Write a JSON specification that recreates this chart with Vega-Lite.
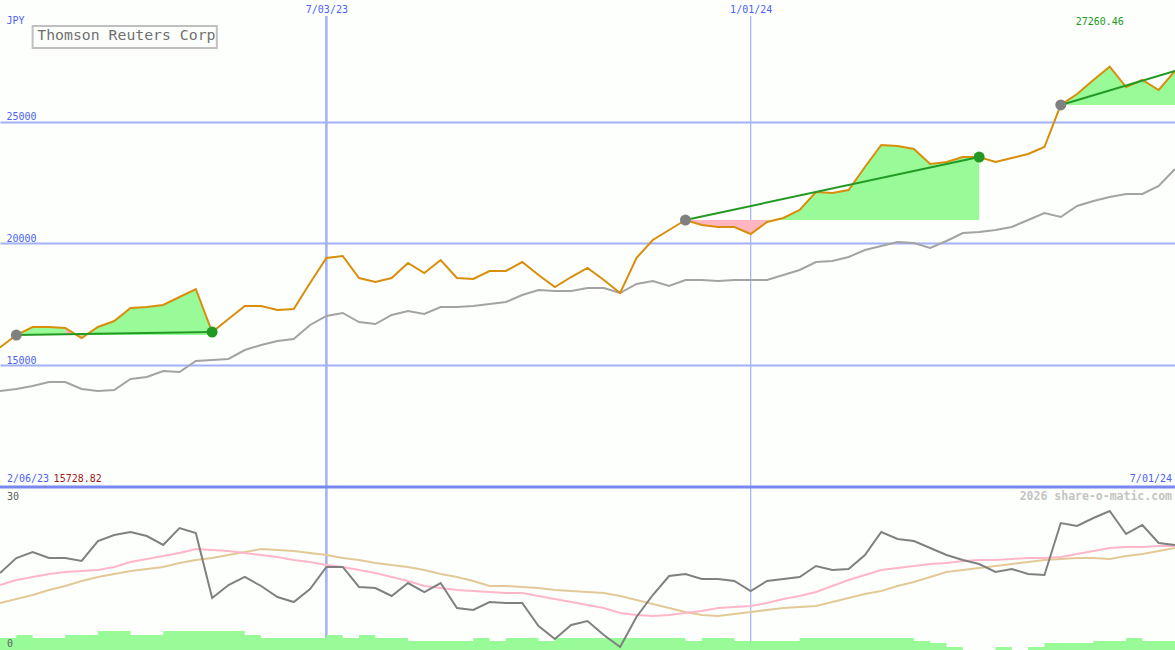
{
  "$schema": "https://vega.github.io/schema/vega-lite/v6.json",
  "width": 1175,
  "height": 650,
  "autosize": {"type": "none"},
  "padding": 0,
  "background": "#fcfffc",
  "config": {"view": {"stroke": null}},
  "datasets": {
    "main": [
      {"d":"2023-02-13","p":15728.82,"ma":13942,"ind":14.17,"s1":11.96,"s2":8.65,"vol":74},
      {"d":"2023-02-20","p":16242,"ma":14025,"ind":16.93,"s1":12.88,"s2":9.39,"vol":92,"trend":"T1","base":16242},
      {"d":"2023-02-27","p":16571,"ma":14148,"ind":18.04,"s1":13.44,"s2":10.12,"vol":74,"trend":"T1","base":16242},
      {"d":"2023-03-06","p":16571,"ma":14312,"ind":16.93,"s1":13.99,"s2":11.04,"vol":74,"trend":"T1","base":16242},
      {"d":"2023-03-13","p":16530,"ma":14312,"ind":16.93,"s1":14.36,"s2":11.78,"vol":92,"trend":"T1","base":16242,"below":true},
      {"d":"2023-03-20","p":16119,"ma":14025,"ind":16.38,"s1":14.54,"s2":12.70,"vol":92,"trend":"T1","base":16242,"below":true},
      {"d":"2023-03-27","p":16571,"ma":13942,"ind":20.06,"s1":14.72,"s2":13.44,"vol":117,"trend":"T1","base":16242},
      {"d":"2023-04-03","p":16817,"ma":13983,"ind":21.17,"s1":15.28,"s2":13.99,"vol":117,"trend":"T1","base":16242},
      {"d":"2023-04-10","p":17351,"ma":14435,"ind":21.72,"s1":16.20,"s2":14.54,"vol":92,"trend":"T1","base":16242},
      {"d":"2023-04-17","p":17392,"ma":14517,"ind":20.98,"s1":16.75,"s2":14.91,"vol":92,"trend":"T1","base":16242},
      {"d":"2023-04-24","p":17474,"ma":14764,"ind":19.33,"s1":17.30,"s2":15.28,"vol":117,"trend":"T1","base":16242},
      {"d":"2023-05-01","p":17803,"ma":14723,"ind":22.45,"s1":17.85,"s2":16.01,"vol":117,"trend":"T1","base":16242},
      {"d":"2023-05-08","p":18131,"ma":15174,"ind":21.53,"s1":18.59,"s2":16.56,"vol":117,"trend":"T1","base":16242},
      {"d":"2023-05-15","p":16365,"ma":15216,"ind":9.57,"s1":18.41,"s2":16.93,"vol":117,"trend":"T1","base":16242},
      {"d":"2023-05-22","p":16899,"ma":15257,"ind":11.96,"s1":18.22,"s2":17.48,"vol":117},
      {"d":"2023-05-29","p":17433,"ma":15626,"ind":13.44,"s1":17.85,"s2":18.04,"vol":92},
      {"d":"2023-06-05","p":17433,"ma":15832,"ind":11.78,"s1":17.48,"s2":18.59,"vol":74},
      {"d":"2023-06-12","p":17269,"ma":15996,"ind":9.75,"s1":17.12,"s2":18.41,"vol":74},
      {"d":"2023-06-19","p":17310,"ma":16078,"ind":8.83,"s1":16.56,"s2":18.22,"vol":74},
      {"d":"2023-06-26","p":18378,"ma":16653,"ind":11.23,"s1":16.20,"s2":17.85,"vol":74},
      {"d":"2023-07-03","p":19404,"ma":17023,"ind":15.28,"s1":15.64,"s2":17.48,"vol":92},
      {"d":"2023-07-10","p":19487,"ma":17146,"ind":15.28,"s1":15.28,"s2":16.93,"vol":74},
      {"d":"2023-07-17","p":18583,"ma":16776,"ind":11.60,"s1":14.72,"s2":16.56,"vol":92},
      {"d":"2023-07-24","p":18419,"ma":16694,"ind":11.41,"s1":14.17,"s2":16.01,"vol":74},
      {"d":"2023-07-31","p":18583,"ma":17064,"ind":9.94,"s1":13.44,"s2":15.64,"vol":74},
      {"d":"2023-08-07","p":19199,"ma":17228,"ind":12.33,"s1":12.70,"s2":15.28,"vol":55},
      {"d":"2023-08-14","p":18788,"ma":17105,"ind":10.67,"s1":11.78,"s2":14.72,"vol":55},
      {"d":"2023-08-21","p":19322,"ma":17392,"ind":12.33,"s1":11.41,"s2":13.99,"vol":55},
      {"d":"2023-08-28","p":18583,"ma":17392,"ind":7.73,"s1":11.04,"s2":13.44,"vol":55},
      {"d":"2023-09-04","p":18542,"ma":17433,"ind":7.36,"s1":10.86,"s2":12.70,"vol":74},
      {"d":"2023-09-11","p":18871,"ma":17515,"ind":8.83,"s1":10.67,"s2":11.78,"vol":55},
      {"d":"2023-09-18","p":18871,"ma":17597,"ind":8.65,"s1":10.49,"s2":11.78,"vol":74},
      {"d":"2023-09-25","p":19240,"ma":17885,"ind":8.65,"s1":10.49,"s2":11.60,"vol":74},
      {"d":"2023-10-02","p":18706,"ma":18090,"ind":4.42,"s1":9.94,"s2":11.41,"vol":55},
      {"d":"2023-10-09","p":18213,"ma":18049,"ind":2.02,"s1":9.39,"s2":11.04,"vol":74},
      {"d":"2023-10-16","p":18624,"ma":18049,"ind":4.60,"s1":8.83,"s2":10.86,"vol":74},
      {"d":"2023-10-23","p":18994,"ma":18172,"ind":5.34,"s1":8.28,"s2":10.67,"vol":74},
      {"d":"2023-10-30","p":18501,"ma":18172,"ind":2.76,"s1":7.73,"s2":10.49,"vol":74},
      {"d":"2023-11-06","p":17967,"ma":17967,"ind":0.55,"s1":6.81,"s2":9.94,"vol":74},
      {"d":"2023-11-13","p":19404,"ma":18337,"ind":6.07,"s1":6.44,"s2":9.20,"vol":74},
      {"d":"2023-11-20","p":20144,"ma":18460,"ind":10.12,"s1":6.26,"s2":8.47,"vol":74},
      {"d":"2023-11-27","p":20554,"ma":18255,"ind":13.62,"s1":6.44,"s2":7.73,"vol":74},
      {"d":"2023-12-04","p":20965,"ma":18501,"ind":13.99,"s1":6.81,"s2":6.99,"vol":55,"trend":"T2","base":20965,"below":true},
      {"d":"2023-12-11","p":20760,"ma":18501,"ind":13.07,"s1":7.18,"s2":6.44,"vol":74,"trend":"T2","base":20965,"below":true},
      {"d":"2023-12-18","p":20678,"ma":18460,"ind":13.07,"s1":7.73,"s2":6.26,"vol":74,"trend":"T2","base":20965,"below":true},
      {"d":"2023-12-25","p":20678,"ma":18501,"ind":12.70,"s1":7.91,"s2":6.63,"vol":55,"trend":"T2","base":20965,"below":true},
      {"d":"2024-01-01","p":20390,"ma":18501,"ind":10.86,"s1":8.10,"s2":6.99,"vol":55,"trend":"T2","base":20965,"below":true},
      {"d":"2024-01-08","p":20883,"ma":18501,"ind":12.70,"s1":8.65,"s2":7.36,"vol":55,"trend":"T2","base":20965,"below":true},
      {"d":"2024-01-15","p":21047,"ma":18706,"ind":13.07,"s1":9.39,"s2":7.73,"vol":55,"trend":"T2","base":20965},
      {"d":"2024-01-22","p":21376,"ma":18912,"ind":13.44,"s1":9.94,"s2":7.91,"vol":74,"trend":"T2","base":20965},
      {"d":"2024-01-29","p":22115,"ma":19240,"ind":15.46,"s1":10.67,"s2":8.10,"vol":74,"trend":"T2","base":20965},
      {"d":"2024-02-05","p":22074,"ma":19281,"ind":14.72,"s1":11.78,"s2":8.83,"vol":74,"trend":"T2","base":20965},
      {"d":"2024-02-12","p":22197,"ma":19446,"ind":14.91,"s1":12.88,"s2":9.57,"vol":74,"trend":"T2","base":20965},
      {"d":"2024-02-19","p":23142,"ma":19733,"ind":17.48,"s1":13.80,"s2":10.31,"vol":74,"trend":"T2","base":20965},
      {"d":"2024-02-26","p":24045,"ma":19897,"ind":21.72,"s1":14.72,"s2":10.86,"vol":74,"trend":"T2","base":20965},
      {"d":"2024-03-04","p":24004,"ma":20062,"ind":20.43,"s1":15.09,"s2":11.78,"vol":74,"trend":"T2","base":20965},
      {"d":"2024-03-11","p":23881,"ma":20020,"ind":20.06,"s1":15.46,"s2":12.52,"vol":55,"trend":"T2","base":20965},
      {"d":"2024-03-18","p":23265,"ma":19815,"ind":18.77,"s1":15.83,"s2":13.44,"vol":43,"trend":"T2","base":20965},
      {"d":"2024-03-25","p":23347,"ma":20103,"ind":17.48,"s1":16.01,"s2":14.36,"vol":18,"trend":"T2","base":20965},
      {"d":"2024-04-01","p":23552,"ma":20431,"ind":16.56,"s1":16.38,"s2":14.72,"vol":0,"trend":"T2","base":20965},
      {"d":"2024-04-08","p":23552,"ma":20472,"ind":15.83,"s1":16.56,"s2":15.09,"vol":0,"trend":"T2","base":20965},
      {"d":"2024-04-15","p":23347,"ma":20554,"ind":14.36,"s1":16.56,"s2":15.46,"vol":18},
      {"d":"2024-04-22","p":23511,"ma":20678,"ind":14.91,"s1":16.75,"s2":15.83,"vol":0},
      {"d":"2024-04-29","p":23676,"ma":20965,"ind":13.99,"s1":16.93,"s2":16.20,"vol":18},
      {"d":"2024-05-06","p":23963,"ma":21253,"ind":13.80,"s1":16.93,"s2":16.56,"vol":43},
      {"d":"2024-05-13","p":25688,"ma":21088,"ind":23.37,"s1":17.12,"s2":16.75,"vol":43,"trend":"T3","base":25688},
      {"d":"2024-05-20","p":26140,"ma":21540,"ind":22.82,"s1":17.67,"s2":16.93,"vol":43,"trend":"T3","base":25688},
      {"d":"2024-05-27","p":26715,"ma":21745,"ind":24.29,"s1":18.22,"s2":16.93,"vol":55,"trend":"T3","base":25688},
      {"d":"2024-06-03","p":27260.46,"ma":21910,"ind":25.58,"s1":18.77,"s2":16.75,"vol":55,"trend":"T3","base":25688},
      {"d":"2024-06-10","p":26427,"ma":22033,"ind":21.35,"s1":18.96,"s2":17.30,"vol":74,"trend":"T3","base":25688},
      {"d":"2024-06-17","p":26715,"ma":22033,"ind":23.01,"s1":18.96,"s2":17.67,"vol":55,"trend":"T3","base":25688},
      {"d":"2024-06-24","p":26304,"ma":22361,"ind":19.69,"s1":19.14,"s2":18.22,"vol":55,"trend":"T3","base":25688},
      {"d":"2024-07-01","p":27084,"ma":23060,"ind":19.33,"s1":19.14,"s2":18.77,"vol":55,"trend":"T3","base":25688}
    ],
    "trends": [
      {"trend":"T1","d":"2023-02-20","p":16242,"pt":"start"},
      {"trend":"T1","d":"2023-05-15","p":16365,"pt":"end"},
      {"trend":"T2","d":"2023-12-04","p":20965,"pt":"start"},
      {"trend":"T2","d":"2024-04-08","p":23552,"pt":"end"},
      {"trend":"T3","d":"2024-05-13","p":25688,"pt":"start"},
      {"trend":"T3","d":"2024-07-01","p":27084,"pt":"open"}
    ],
    "marks": [
      {"d":"2023-07-03","kind":"half-year"},
      {"d":"2024-01-01","kind":"year"}
    ]
  },
  "resolve": {"scale": {"y": "independent"}},
  "layer": [
    {
      "data": {"name": "marks"},
      "mark": {"type": "rule", "color": "#a3b1f6"},
      "encoding": {
        "x": {
          "field": "d", "type": "temporal",
          "scale": {"type": "utc", "domain": [{"year":2023,"month":2,"date":13,"utc":true},{"year":2024,"month":7,"date":1,"utc":true}]},
          "axis": {
            "orient": "top", "title": null,
            "values": [{"year":2023,"month":7,"date":3,"utc":true},{"year":2024,"month":1,"date":1,"utc":true}],
            "format": "%-m/%d/%y", "domain": false, "ticks": false, "tickSize": 0, "grid": false,
            "labelPadding": -4, "labelBaseline": "top", "labelFlush": false,
            "labelFont": "DejaVu Sans Mono", "labelFontSize": 10, "labelColor": "#4f5ff5"
          }
        },
        "y": {"datum": 29343, "type": "quantitative", "scale": {"domain": [3305.95, 30000], "nice": false, "zero": false}, "axis": null},
        "y2": {"datum": 3305.95},
        "strokeWidth": {"field": "kind", "type": "nominal", "scale": {"domain": ["half-year", "year"], "range": [2.5, 1.2]}, "legend": null}
      }
    },
    {
      "data": {"name": "main"},
      "mark": {"type": "area", "interpolate": "step-after", "color": "#98fb98", "opacity": 1},
      "encoding": {
        "x": {"field": "d", "type": "temporal"},
        "y": {"field": "vol", "type": "quantitative", "scale": {"domain": [0, 3987.73], "nice": false}, "axis": null}
      }
    },
    {
      "encoding": {
        "y": {"field": "ind", "type": "quantitative", "scale": {"domain": [0, 119.632], "nice": false}, "axis": null}
      },
      "layer": [
        {
          "data": {"name": "main"},
          "mark": {"type": "line", "color": "#e3c997", "strokeWidth": 2},
          "encoding": {"x": {"field": "d", "type": "temporal"}, "y": {"field": "s2", "type": "quantitative", "axis": null}}
        },
        {
          "data": {"name": "main"},
          "mark": {"type": "line", "color": "#ffb6c8", "strokeWidth": 2},
          "encoding": {"x": {"field": "d", "type": "temporal"}, "y": {"field": "s1", "type": "quantitative", "axis": null}}
        },
        {
          "data": {"name": "main"},
          "mark": {"type": "line", "color": "#808080", "strokeWidth": 2},
          "encoding": {"x": {"field": "d", "type": "temporal"}}
        },
        {
          "data": {"values": [{"d": "2023-02-13", "ind": 30}]},
          "mark": {"type": "text", "align": "left", "baseline": "top", "dx": 7, "dy": 5, "font": "DejaVu Sans Mono", "fontSize": 10, "color": "#606060"},
          "encoding": {
            "x": {"field": "d", "type": "temporal"},
            "text": {"field": "ind", "type": "quantitative"}
          }
        },
        {
          "data": {"values": [{"d": "2023-02-13", "ind": 0}]},
          "mark": {"type": "text", "align": "left", "baseline": "bottom", "dx": 7, "dy": -1, "font": "DejaVu Sans Mono", "fontSize": 10, "color": "#606060"},
          "encoding": {
            "x": {"field": "d", "type": "temporal"},
            "text": {"field": "ind", "type": "quantitative"}
          }
        },
        {
          "data": {"values": [{"t": "2026 share-o-matic.com", "d": "2024-07-01", "ind": 30}]},
          "mark": {"type": "text", "align": "right", "baseline": "top", "dx": -3, "dy": 4, "font": "DejaVu Sans Mono", "fontSize": 11.5, "fontWeight": "bold", "color": "#c4c4c4"},
          "encoding": {
            "x": {"field": "d", "type": "temporal"},
            "text": {"field": "t"}
          }
        }
      ]
    },
    {
      "encoding": {
        "y": {
          "field": "p", "type": "quantitative",
          "scale": {"domain": [3305.95, 30000], "nice": false, "zero": false},
          "axis": {
            "orient": "left", "values": [15000, 20000, 25000], "format": "d",
            "title": "JPY", "titleAngle": 0, "titleX": 6, "titleY": 20, "titleAlign": "left", "titleBaseline": "middle",
            "titleFont": "DejaVu Sans Mono", "titleFontSize": 10, "titleFontWeight": "normal", "titleColor": "#4f5ff5",
            "domain": false, "ticks": false, "tickSize": 0,
            "labelAlign": "left", "labelBaseline": "bottom", "labelPadding": -6,
            "labelFont": "DejaVu Sans Mono", "labelFontSize": 10, "labelColor": "#4f5ff5",
            "grid": true, "gridColor": "#a3b1f6", "gridWidth": 2, "gridOpacity": 1
          }
        }
      },
      "layer": [
        {
          "data": {"values": [{"p": 10000}]},
          "mark": {"type": "rule", "color": "#7888f0", "strokeWidth": 3}
        },
        {
          "data": {"name": "main"},
          "transform": [{"filter": "isValid(datum.base)"}],
          "mark": {"type": "area", "color": "#98fb98", "opacity": 1},
          "encoding": {"x": {"field": "d", "type": "temporal"}, "y2": {"field": "base"}, "detail": {"field": "trend"}}
        },
        {
          "data": {"name": "main"},
          "transform": [{"filter": "datum.below === true"}],
          "mark": {"type": "area", "color": "#ffb6c1", "opacity": 1},
          "encoding": {"x": {"field": "d", "type": "temporal"}, "y2": {"field": "base"}, "detail": {"field": "trend"}}
        },
        {
          "data": {"name": "main"},
          "mark": {"type": "line", "color": "#a3a3a3", "strokeWidth": 2},
          "encoding": {"x": {"field": "d", "type": "temporal"}, "y": {"field": "ma", "type": "quantitative"}}
        },
        {
          "data": {"name": "main"},
          "mark": {"type": "line", "color": "#d98e0b", "strokeWidth": 2},
          "encoding": {"x": {"field": "d", "type": "temporal"}}
        },
        {
          "data": {"name": "trends"},
          "mark": {"type": "line", "color": "#229922", "strokeWidth": 2},
          "encoding": {"x": {"field": "d", "type": "temporal"}, "detail": {"field": "trend"}}
        },
        {
          "data": {"name": "trends"},
          "transform": [{"filter": "datum.pt !== 'open'"}],
          "mark": {"type": "circle", "size": 120, "opacity": 1},
          "encoding": {
            "x": {"field": "d", "type": "temporal"},
            "color": {"field": "pt", "type": "nominal", "scale": {"domain": ["start", "end"], "range": ["#808080", "#229922"]}, "legend": null}
          }
        },
        {
          "data": {"values": [{"d": "2023-02-27", "d2": "2023-05-17", "p": 28932, "p2": 28029}]},
          "mark": {"type": "rect", "fill": "#fcfffc", "stroke": "#c0c0c0", "strokeWidth": 2},
          "encoding": {
            "x": {"field": "d", "type": "temporal"},
            "x2": {"field": "d2"},
            "y2": {"field": "p2"}
          }
        },
        {
          "data": {"values": [{"t": "Thomson Reuters Corp", "d": "2023-03-01", "p": 28522}]},
          "mark": {"type": "text", "align": "left", "baseline": "middle", "font": "DejaVu Sans Mono", "fontSize": 14.8, "color": "#707070"},
          "encoding": {"x": {"field": "d", "type": "temporal"}, "text": {"field": "t"}}
        },
        {
          "data": {"values": [{"t": "27260.46", "d": "2024-06-03", "p": 29096}]},
          "mark": {"type": "text", "align": "center", "baseline": "middle", "dx": -10, "font": "DejaVu Sans Mono", "fontSize": 10, "color": "#1a9a1a"},
          "encoding": {"x": {"field": "d", "type": "temporal"}, "text": {"field": "t"}}
        },
        {
          "data": {"values": [{"t": "2/06/23", "d": "2023-02-16", "p": 10330}]},
          "mark": {"type": "text", "align": "left", "baseline": "middle", "font": "DejaVu Sans Mono", "fontSize": 10, "color": "#4f5ff5"},
          "encoding": {"x": {"field": "d", "type": "temporal"}, "text": {"field": "t"}}
        },
        {
          "data": {"values": [{"t": "15728.82", "d": "2023-03-08", "p": 10330}]},
          "mark": {"type": "text", "align": "left", "baseline": "middle", "font": "DejaVu Sans Mono", "fontSize": 10, "color": "#a01818"},
          "encoding": {"x": {"field": "d", "type": "temporal"}, "text": {"field": "t"}}
        },
        {
          "data": {"values": [{"t": "7/01/24", "d": "2024-07-01", "p": 10330}]},
          "mark": {"type": "text", "align": "right", "baseline": "middle", "dx": -3, "font": "DejaVu Sans Mono", "fontSize": 10, "color": "#4f5ff5"},
          "encoding": {"x": {"field": "d", "type": "temporal"}, "text": {"field": "t"}}
        }
      ]
    }
  ]
}
